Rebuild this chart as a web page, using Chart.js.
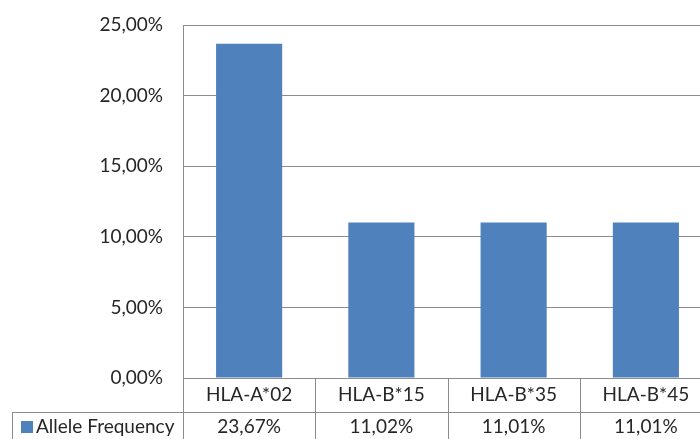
<!DOCTYPE html>
<html>
<head>
<meta charset="utf-8">
<script src="https://cdn.jsdelivr.net/npm/chart.js@4"></script>
<style>
  html, body { margin: 0; padding: 0; background: #fff; overflow: hidden; }
  #wrap { width: 712px; height: 439px; }
</style>
</head>
<body>
<div id="wrap"><canvas id="chart"></canvas></div>
<script>
// Data
const alleles = ['HLA-A*02', 'HLA-B*15', 'HLA-B*35', 'HLA-B*45'];
const frequency = [23.67, 11.02, 11.01, 11.01]; // percent
const seriesName = 'Allele Frequency';

const FONT = 'Lato, "Open Sans", sans-serif';
const TEXT = '#262626';
const LINE = '#8c8c8c';
const BAR = '#4f81bd';

// percent with a comma, like the Excel table
const fmt = v => v.toFixed(2).replace('.', ',') + '%';

// Draw the data table under the plot
const dataTable = {
  id: 'dataTable',
  afterDraw(chart) {
    const ctx = chart.ctx;
    const area = chart.chartArea;
    const x = chart.scales.x;
    const rowTop = area.bottom + 34;
    const bottom = chart.height;
    const legendLeft = 12;
    const half = (x.getPixelForValue(1) - x.getPixelForValue(0)) / 2;

    ctx.save();
    ctx.strokeStyle = LINE;
    ctx.lineWidth = 1;
    ctx.beginPath();
    // row separator
    ctx.moveTo(legendLeft, rowTop + 0.5);
    ctx.lineTo(area.right, rowTop + 0.5);
    // left border of legend cell
    ctx.moveTo(legendLeft + 0.5, rowTop);
    ctx.lineTo(legendLeft + 0.5, bottom);
    // column separators
    alleles.forEach((a, i) => {
      const cx = Math.round(x.getPixelForValue(i) - half) + 0.5;
      ctx.moveTo(cx, area.bottom);
      ctx.lineTo(cx, bottom);
    });
    ctx.stroke();

    // legend key + name
    ctx.fillStyle = BAR;
    ctx.fillRect(21, rowTop + 9, 12, 12);
    ctx.font = '19px ' + FONT;
    ctx.fillStyle = TEXT;
    ctx.textBaseline = 'middle';
    ctx.textAlign = 'left';
    ctx.fillText(seriesName, 36, rowTop + 15);

    // values
    ctx.textAlign = 'center';
    frequency.forEach((v, i) => {
      ctx.fillText(fmt(v), x.getPixelForValue(i), rowTop + 15);
    });
    ctx.restore();
  }
};

new Chart(document.getElementById('chart'), {
  type: 'bar',
  data: {
    labels: alleles,
    datasets: [{
      label: seriesName,
      data: frequency,
      backgroundColor: BAR,
      borderWidth: 0,
      categoryPercentage: 1,
      barPercentage: 0.5
    }]
  },
  options: {
    responsive: true,
    maintainAspectRatio: false,
    animation: false,
    layout: { padding: { top: 25, right: 0, bottom: 0, left: 0 } },
    plugins: {
      legend: { display: false },
      tooltip: { enabled: false }
    },
    scales: {
      y: {
        min: 0,
        max: 25,
        afterFit(scale) {
          scale.width = 183;
          scale.paddingTop = 0;
          scale.paddingBottom = 0;
        },
        ticks: {
          stepSize: 5,
          padding: 20,
          color: TEXT,
          font: { family: FONT, size: 19 },
          callback: v => fmt(v)
        },
        grid: { color: LINE, drawTicks: false },
        border: { display: true, color: LINE }
      },
      x: {
        afterFit(scale) {
          scale.height = 61;
          scale.paddingLeft = 0;
          scale.paddingRight = 0;
        },
        ticks: {
          padding: -3,
          color: TEXT,
          font: { family: FONT, size: 19 }
        },
        grid: { display: false },
        border: { display: true, color: LINE }
      }
    }
  },
  plugins: [dataTable]
});
</script>
</body>
</html>
